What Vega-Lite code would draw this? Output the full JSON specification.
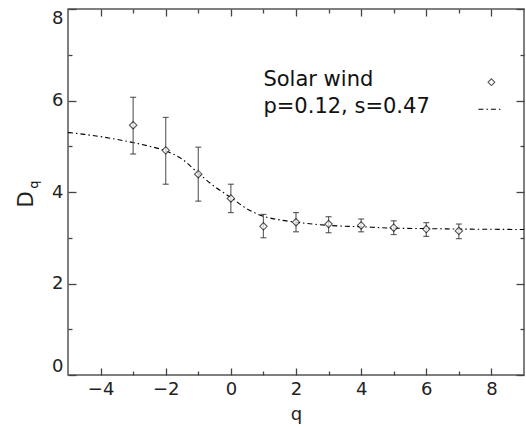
{
  "$schema": "https://vega.github.io/schema/vega-lite/v6.json",
  "width": 456,
  "height": 366,
  "autosize": "none",
  "padding": {"left": 68, "top": 9, "right": 2, "bottom": 52},
  "background": "white",
  "config": {
    "view": {"stroke": "#555", "strokeWidth": 1.5},
    "axis": {"grid": false, "domain": false, "tickColor": "#444", "tickWidth": 1.3, "labelFont": "DejaVu Sans", "labelFontSize": 18, "labelColor": "#222", "titleFont": "DejaVu Sans", "titleFontWeight": "normal", "titleColor": "#222"}
  },
  "datasets": {
    "pts": [
      {"q": -3, "d": 5.46, "lo": 4.83, "hi": 6.07},
      {"q": -2, "d": 4.91, "lo": 4.17, "hi": 5.63},
      {"q": -1, "d": 4.39, "lo": 3.80, "hi": 4.98},
      {"q": 0, "d": 3.86, "lo": 3.55, "hi": 4.17},
      {"q": 1, "d": 3.25, "lo": 3.00, "hi": 3.51},
      {"q": 2, "d": 3.34, "lo": 3.13, "hi": 3.55},
      {"q": 3, "d": 3.30, "lo": 3.11, "hi": 3.46},
      {"q": 4, "d": 3.27, "lo": 3.13, "hi": 3.41},
      {"q": 5, "d": 3.22, "lo": 3.07, "hi": 3.37},
      {"q": 6, "d": 3.19, "lo": 3.03, "hi": 3.33},
      {"q": 7, "d": 3.15, "lo": 2.98, "hi": 3.30}
    ],
    "curve": [
      {"q": -5, "d": 5.30}, {"q": -4.5, "d": 5.26}, {"q": -4, "d": 5.21}, {"q": -3.5, "d": 5.15},
      {"q": -3, "d": 5.08}, {"q": -2.5, "d": 5.00}, {"q": -2, "d": 4.90}, {"q": -1.5, "d": 4.72},
      {"q": -1, "d": 4.41}, {"q": -0.5, "d": 4.12}, {"q": 0, "d": 3.88}, {"q": 0.5, "d": 3.63},
      {"q": 1, "d": 3.47}, {"q": 1.5, "d": 3.39}, {"q": 2, "d": 3.34}, {"q": 2.5, "d": 3.30},
      {"q": 3, "d": 3.27}, {"q": 4, "d": 3.24}, {"q": 5, "d": 3.21}, {"q": 6, "d": 3.20},
      {"q": 7, "d": 3.19}, {"q": 8, "d": 3.185}, {"q": 9, "d": 3.18}
    ],
    "legline": [{"q": 7.6, "d": 5.81}, {"q": 8.35, "d": 5.81}],
    "legsym": [{"q": 8.0, "d": 6.4}],
    "texts": [
      {"q": 1.0, "d": 6.32, "t": "Solar wind"},
      {"q": 1.0, "d": 5.73, "t": "p=0.12, s=0.47"}
    ],
    "sub": [{"q": -6.03, "d": 4.16, "t": "q"}]
  },
  "resolve": {"axis": {"x": "independent", "y": "independent"}},
  "layer": [
    {
      "data": {"name": "curve"},
      "mark": {"type": "line", "color": "black", "strokeWidth": 1.1, "strokeDash": [5, 3, 1.5, 3], "interpolate": "monotone"},
      "encoding": {
        "x": {"field": "q", "type": "quantitative", "scale": {"domain": [-5, 9], "nice": false, "zero": false},
              "axis": {"orient": "bottom", "values": [-4, -2, 0, 2, 4, 6, 8], "tickSize": -7, "labelPadding": 12, "title": "q", "titleFontSize": 18, "titleBaseline": "alphabetic", "titleY": 44}},
        "y": {"field": "d", "type": "quantitative", "scale": {"domain": [0, 8], "nice": false, "zero": false},
              "axis": {"orient": "left", "values": [0, 2, 4, 6, 8], "tickSize": -8, "labelPadding": 13, "labelFlush": true, "title": "D", "titleFontSize": 21, "titleBaseline": "alphabetic", "titleX": -36, "titleY": 190}}
      }
    },
    {
      "data": {"name": "pts"},
      "mark": {"type": "rule", "color": "#666", "strokeWidth": 1.2},
      "encoding": {
        "x": {"field": "q", "type": "quantitative", "scale": {"domain": [-5, 9], "nice": false, "zero": false},
              "axis": {"orient": "bottom", "values": [-3, -1, 1, 3, 5, 7], "tickSize": -4, "labels": false, "title": null}},
        "y": {"field": "lo", "type": "quantitative", "scale": {"domain": [0, 8], "nice": false, "zero": false},
              "axis": {"orient": "left", "values": [1, 3, 5, 7], "tickSize": -4, "labels": false, "title": null}},
        "y2": {"field": "hi"}
      }
    },
    {
      "data": {"name": "pts"},
      "mark": {"type": "tick", "orient": "horizontal", "color": "#222", "size": 6, "thickness": 1.2},
      "encoding": {
        "x": {"field": "q", "type": "quantitative", "scale": {"domain": [-5, 9], "nice": false, "zero": false},
              "axis": {"orient": "top", "values": [-4, -2, 0, 2, 4, 6, 8], "tickSize": -7, "labels": false, "title": null}},
        "y": {"field": "lo", "type": "quantitative", "scale": {"domain": [0, 8], "nice": false, "zero": false},
              "axis": {"orient": "right", "values": [0, 2, 4, 6, 8], "tickSize": -8, "labels": false, "title": null}}
      }
    },
    {
      "data": {"name": "pts"},
      "mark": {"type": "tick", "orient": "horizontal", "color": "#222", "size": 6, "thickness": 1.2},
      "encoding": {
        "x": {"field": "q", "type": "quantitative", "scale": {"domain": [-5, 9], "nice": false, "zero": false},
              "axis": {"orient": "top", "values": [-3, -1, 1, 3, 5, 7], "tickSize": -4, "labels": false, "title": null}},
        "y": {"field": "hi", "type": "quantitative", "scale": {"domain": [0, 8], "nice": false, "zero": false},
              "axis": {"orient": "right", "values": [1, 3, 5, 7], "tickSize": -4, "labels": false, "title": null}}
      }
    },
    {
      "data": {"name": "pts"},
      "mark": {"type": "point", "shape": "diamond", "size": 55, "filled": true, "fill": "white", "stroke": "#111", "strokeWidth": 1.1},
      "encoding": {
        "x": {"field": "q", "type": "quantitative", "scale": {"domain": [-5, 9], "nice": false, "zero": false}, "axis": null},
        "y": {"field": "d", "type": "quantitative", "scale": {"domain": [0, 8], "nice": false, "zero": false}, "axis": null}
      }
    },
    {
      "data": {"name": "legline"},
      "mark": {"type": "line", "color": "black", "strokeWidth": 1.1, "strokeDash": [5, 3, 1.5, 3]},
      "encoding": {
        "x": {"field": "q", "type": "quantitative", "scale": {"domain": [-5, 9], "nice": false, "zero": false}, "axis": null},
        "y": {"field": "d", "type": "quantitative", "scale": {"domain": [0, 8], "nice": false, "zero": false}, "axis": null}
      }
    },
    {
      "data": {"name": "legsym"},
      "mark": {"type": "point", "shape": "diamond", "size": 45, "filled": true, "fill": "white", "stroke": "#111", "strokeWidth": 1.1},
      "encoding": {
        "x": {"field": "q", "type": "quantitative", "scale": {"domain": [-5, 9], "nice": false, "zero": false}, "axis": null},
        "y": {"field": "d", "type": "quantitative", "scale": {"domain": [0, 8], "nice": false, "zero": false}, "axis": null}
      }
    },
    {
      "data": {"name": "texts"},
      "mark": {"type": "text", "font": "DejaVu Sans", "fontSize": 21, "align": "left", "baseline": "alphabetic", "color": "#111"},
      "encoding": {
        "x": {"field": "q", "type": "quantitative", "scale": {"domain": [-5, 9], "nice": false, "zero": false}, "axis": null},
        "y": {"field": "d", "type": "quantitative", "scale": {"domain": [0, 8], "nice": false, "zero": false}, "axis": null},
        "text": {"field": "t"}
      }
    },
    {
      "data": {"name": "sub"},
      "mark": {"type": "text", "font": "DejaVu Sans", "fontSize": 13, "align": "center", "baseline": "middle", "angle": 270, "color": "#111"},
      "encoding": {
        "x": {"field": "q", "type": "quantitative", "scale": {"domain": [-5, 9], "nice": false, "zero": false}, "axis": null},
        "y": {"field": "d", "type": "quantitative", "scale": {"domain": [0, 8], "nice": false, "zero": false}, "axis": null},
        "text": {"field": "t"}
      }
    }
  ]
}
